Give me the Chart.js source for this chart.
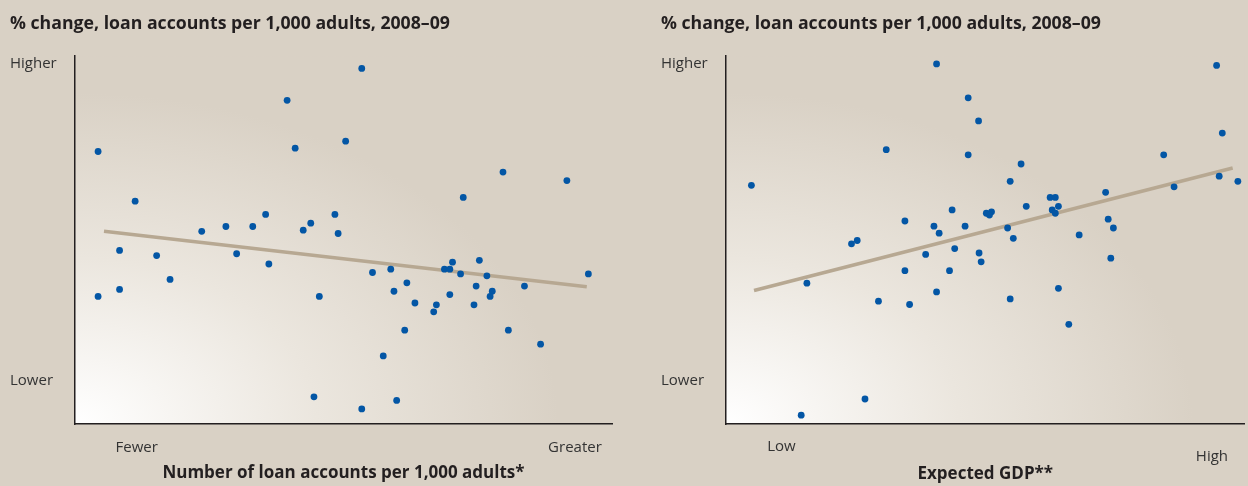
<!DOCTYPE html>
<html>
<head>
<meta charset="utf-8">
<script src="https://cdn.jsdelivr.net/npm/chart.js@4.4.1/dist/chart.umd.min.js"></script>
<style>
  html, body { margin: 0; padding: 0; background: #d9d1c5; }
  #wrap { display: flex; width: 1248px; height: 486px; }
  canvas { display: block; }
</style>
</head>
<body>
<div id="wrap">
  <canvas id="left" width="624" height="486"></canvas>
  <canvas id="right" width="624" height="486"></canvas>
</div>
<script>
// shared
const titleText = '% change, loan accounts per 1,000 adults, 2008–09';
const yTickVals = [11.7, 98.0];
const yTickLabels = ['Lower', 'Higher'];

// left panel: loan accounts
const leftXTitle = 'Number of loan accounts per 1,000 adults*';
const leftXTickVals = [11.5, 93.1];
const leftXTickLabels = ['Fewer', 'Greater'];
const leftX = [53.4, 39.5, 4.3, 41.0, 50.4, 79.7, 91.6, 11.2, 72.3, 35.5, 48.4, 28.1, 33.1, 43.9, 42.5, 23.6, 49.0,
  8.3, 15.2, 30.1, 36.1, 17.7, 8.3, 4.3, 45.5, 55.4, 58.8, 61.8, 59.4, 63.3, 67.3, 66.8, 68.8, 69.8, 70.3, 71.8,
  75.3, 76.7, 74.7, 69.8, 74.3, 77.7, 77.3, 83.7, 95.6, 61.4, 80.7, 86.7, 57.4, 44.5, 59.9, 53.4];
const leftY = [96.7, 88.0, 74.1, 75.0, 76.9, 68.5, 66.2, 60.6, 61.6, 57.0, 57.0, 53.7, 53.7, 54.6, 52.7, 52.4, 51.8,
  47.2, 45.8, 46.3, 43.5, 39.3, 36.6, 34.7, 34.7, 41.2, 42.1, 38.4, 36.1, 32.9, 32.4, 30.5, 42.1, 42.1, 44.0, 40.8,
  44.5, 40.3, 37.5, 35.2, 32.4, 36.1, 34.7, 37.5, 40.8, 25.5, 25.5, 21.7, 18.5, 7.4, 6.4, 4.1];
const leftTrendX = [5.4, 95.3];
const leftTrendY = [52.4, 37.3];

// right panel: expected GDP
const rightXTitle = 'Expected GDP**';
const rightXTickVals = [10.7, 93.7];
const rightXTickLabels = ['Low', 'High'];
const rightX = [40.6, 94.6, 46.7, 48.7, 95.7, 30.9, 46.7, 84.4, 56.9, 4.9, 54.8, 95.1, 86.4, 98.7, 73.2, 62.5, 63.5,
  64.1, 57.9, 62.9, 63.5, 43.6, 51.2, 50.2, 50.8, 34.5, 40.1, 46.1, 54.3, 41.1, 73.7, 74.7, 55.4, 68.1, 24.2, 25.3,
  44.1, 38.5, 48.8, 49.2, 74.2, 34.5, 43.1, 15.6, 40.6, 29.4, 35.4, 54.8, 64.1, 66.1, 26.8, 14.5];
const rightY = [97.9, 97.5, 88.7, 82.4, 79.1, 74.6, 73.2, 73.2, 70.7, 64.9, 66.0, 67.4, 64.5, 66.0, 63.0, 61.6, 61.6,
  59.2, 59.2, 58.2, 57.3, 58.2, 57.7, 57.3, 56.8, 55.2, 53.8, 53.8, 53.3, 51.9, 55.7, 53.3, 50.5, 51.4, 49.0, 49.9,
  47.7, 46.1, 46.5, 44.1, 45.1, 41.7, 41.7, 38.3, 35.9, 33.4, 32.5, 34.0, 36.9, 27.1, 6.8, 2.4];
const rightTrendX = [5.4, 97.7];
const rightTrendY = [36.3, 69.6];

Chart.defaults.font.family = "'Open Sans', sans-serif";
Chart.defaults.color = '#333';

// light wash from the bottom-left corner of the plot
const shadePlugin = {
  id: 'shade',
  beforeDraw(chart) {
    const { ctx, chartArea } = chart;
    const w = chartArea.right - chartArea.left;
    const h = chartArea.bottom - chartArea.top;
    ctx.save();
    ctx.beginPath();
    ctx.rect(chartArea.left, chartArea.top, w, h);
    ctx.clip();
    ctx.translate(chartArea.left, chartArea.bottom);
    ctx.scale(w, h);
    const g = ctx.createRadialGradient(0, 0, 0, 0, 0, 1);
    g.addColorStop(0, '#ffffff');
    g.addColorStop(0.45, '#ebe6de');
    g.addColorStop(0.9, '#d9d1c5');
    g.addColorStop(1, '#d9d1c5');
    ctx.fillStyle = g;
    ctx.fillRect(0, -1, 1, 1);
    ctx.restore();
  },
};

// cfg: layout padding + tick/title spacing for each panel
function makeChart(id, xs, ys, tx, ty, xVals, xLabels, xTitle, cfg) {
  const pts = xs.map((x, i) => ({ x, y: ys[i] }));
  const trend = tx.map((x, i) => ({ x, y: ty[i] }));
  return new Chart(document.getElementById(id), {
    type: 'scatter',
    data: {
      datasets: [
        {
          data: pts,
          pointRadius: 3.4,
          pointBackgroundColor: '#0356a5',
          pointBorderWidth: 0,
          pointHoverRadius: 3.4,
          order: 1,
        },
        {
          type: 'line',
          data: trend,
          borderColor: '#b7a892',
          borderWidth: 3.5,
          pointRadius: 0,
          fill: false,
          order: 2,
        },
      ],
    },
    options: {
      responsive: false,
      animation: false,
      events: [],
      layout: { padding: cfg.pad },
      plugins: {
        legend: { display: false },
        tooltip: { enabled: false },
        title: {
          display: true,
          text: titleText,
          align: 'start',
          color: '#231f20',
          font: { size: 17.7, weight: 'bold' },
          padding: { top: 13, bottom: 22 },
        },
      },
      scales: {
        x: {
          type: 'linear',
          min: 0,
          max: 100,
          afterBuildTicks: (axis) => { axis.ticks = xVals.map((v) => ({ value: v })); },
          grid: { display: false, drawTicks: false },
          border: { display: true, color: '#231f20', width: 1.5 },
          ticks: {
            autoSkip: false,
            maxRotation: 0,
            padding: cfg.tickPad,
            color: '#333',
            font: { size: 15, lineHeight: cfg.tickLine },
            callback: (v, i) => (cfg.dropLast && i === 1 ? ['', xLabels[i]] : xLabels[i]),
          },
          title: {
            display: true,
            text: xTitle,
            color: '#231f20',
            font: { size: 17, weight: 'bold' },
            padding: cfg.titlePad,
          },
        },
        y: {
          type: 'linear',
          min: 0,
          max: 100,
          afterBuildTicks: (axis) => { axis.ticks = yTickVals.map((v) => ({ value: v })); },
          afterFit: (axis) => { axis.width = 65; },
          grid: { display: false, drawTicks: false },
          border: { display: true, color: '#231f20', width: 1.5 },
          ticks: {
            autoSkip: false,
            crossAlign: 'far',
            padding: 0,
            color: '#333',
            font: { size: 15 },
            callback: (v, i) => yTickLabels[i],
          },
        },
      },
    },
    plugins: [shadePlugin],
  });
}

makeChart('left', leftX, leftY, leftTrendX, leftTrendY, leftXTickVals, leftXTickLabels, leftXTitle, {
  pad: { left: 10, right: 12, top: 0, bottom: 5 },
  tickPad: 19, tickLine: '10px', dropLast: false,
  titlePad: { top: -9.2, bottom: -2.2 },
});
makeChart('right', rightX, rightY, rightTrendX, rightTrendY, rightXTickVals, rightXTickLabels, rightXTitle, {
  pad: { left: 37, right: 0, top: 0, bottom: 0 },
  tickPad: 18, tickLine: '9.5px', dropLast: true,
  titlePad: { top: -15.4, bottom: 2 },
});
</script>
</body>
</html>
